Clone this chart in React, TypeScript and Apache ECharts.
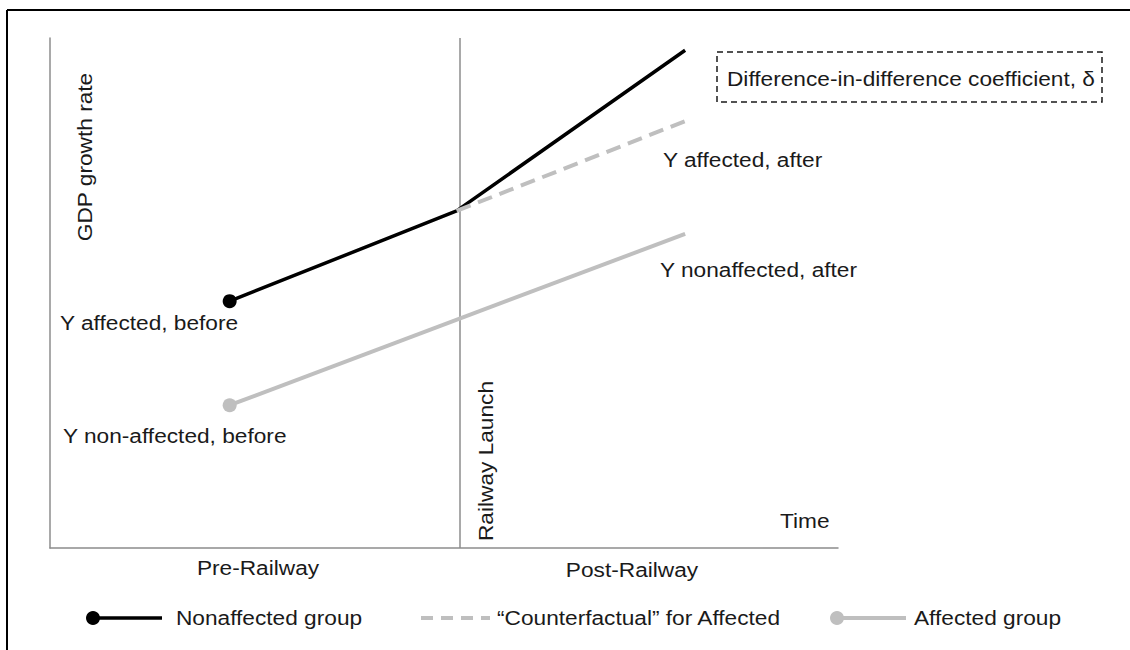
import React, { useEffect, useRef } from "react";
import * as echarts from "echarts";

// Values (x: time 0-100, y: GDP growth 0-100)
const nonaffectedX = [22.8, 51.6, 80.6];
const nonaffectedY = [48.4, 66.1, 97.6];
const counterX = [51.6, 80.6];
const counterY = [66.1, 83.7];
const affectedX = [22.8, 80.6];
const affectedY = [28.0, 61.6];
const railwayLaunchX = 52.0;
const legendNames = ["Nonaffected group", "\u201cCounterfactual\u201d for Affected", "Affected group"];

const FONT = "'Liberation Sans', Arial, sans-serif";
const TXT = "#1a1a1a";
const GREY = "#bfbfbf";
const AXIS = "#8c8c8c";
const STRETCH = 1.08;

function pts(xs: number[], ys: number[], firstSymbol: boolean) {
  return xs.map((x, i) =>
    i === 0 && firstSymbol
      ? { value: [x, ys[i]], symbol: "circle", symbolSize: 14 }
      : { value: [x, ys[i]], symbol: "none" }
  );
}

function txt(text: string, x: number, y: number, align = "left", rotation = 0) {
  return {
    type: "text",
    x,
    y,
    rotation,
    scaleX: STRETCH,
    style: { text, font: `21px ${FONT}`, fill: TXT, align, verticalAlign: "middle" },
  };
}

export default function App() {
  const ref = useRef<HTMLDivElement>(null);
  useEffect(() => {
    if (!ref.current) return;
    const chart = echarts.init(ref.current, undefined, { renderer: "svg" });
    chart.setOption({
      animation: false,
      backgroundColor: "#fff",
      grid: { left: 50, top: 38, right: 292, bottom: 102 },
      xAxis: {
        type: "value",
        min: 0,
        max: 100,
        axisLine: { show: true, lineStyle: { color: AXIS, width: 1.5 } },
        axisTick: { show: false },
        axisLabel: { show: false },
        splitLine: { show: false },
      },
      yAxis: {
        type: "value",
        min: 0,
        max: 100,
        axisLine: { show: true, lineStyle: { color: AXIS, width: 1.5 } },
        axisTick: { show: false },
        axisLabel: { show: false },
        splitLine: { show: false },
      },
      series: [
        {
          name: legendNames[2],
          type: "line",
          data: pts(affectedX, affectedY, true),
          itemStyle: { color: GREY },
          lineStyle: { color: GREY, width: 4 },
          z: 2,
        },
        {
          name: legendNames[0],
          type: "line",
          data: pts(nonaffectedX, nonaffectedY, true),
          itemStyle: { color: "#000" },
          lineStyle: { color: "#000", width: 3.5 },
          z: 3,
          markLine: {
            silent: true,
            symbol: "none",
            label: { show: false },
            lineStyle: { color: AXIS, width: 1.5, type: "solid" },
            data: [{ xAxis: railwayLaunchX }],
            z: 1,
          },
        },
        {
          name: legendNames[1],
          type: "line",
          data: pts(counterX, counterY, false),
          lineStyle: { color: GREY, width: 4, type: [15, 8] },
          z: 4,
        },
      ],
      graphic: [
        // figure frame
        { type: "line", shape: { x1: 7, y1: 10, x2: 1130, y2: 10 }, style: { stroke: "#000", lineWidth: 2 } },
        { type: "line", shape: { x1: 7, y1: 10, x2: 7, y2: 650 }, style: { stroke: "#000", lineWidth: 2 } },
        txt("GDP growth rate", 85, 157, "center", Math.PI / 2),
        txt("Y affected, before", 60, 323),
        txt("Y non-affected, before", 63, 436),
        txt("Y affected, after", 663, 160),
        txt("Y nonaffected, after", 660, 270),
        txt("Railway Launch", 486, 461, "center", Math.PI / 2),
        txt("Time", 780, 521),
        txt("Pre-Railway", 258, 568, "center"),
        txt("Post-Railway", 632, 570, "center"),
        {
          type: "rect",
          shape: { x: 717, y: 52, width: 385, height: 50 },
          style: { fill: "none", stroke: "#1a1a1a", lineWidth: 1.5, lineDash: [6, 4] },
        },
        txt("Difference-in-difference coefficient, \u03b4", 727, 79),
        // legend
        { type: "line", shape: { x1: 93, y1: 618, x2: 162, y2: 618 }, style: { stroke: "#000", lineWidth: 3.5 } },
        { type: "circle", shape: { cx: 93, cy: 618, r: 7 }, style: { fill: "#000" } },
        txt(legendNames[0], 176, 618),
        { type: "line", shape: { x1: 421, y1: 618, x2: 490, y2: 618 }, style: { stroke: GREY, lineWidth: 4, lineDash: [12, 8] } },
        txt(legendNames[1], 497, 618),
        { type: "line", shape: { x1: 837, y1: 618, x2: 906, y2: 618 }, style: { stroke: GREY, lineWidth: 4 } },
        { type: "circle", shape: { cx: 837, cy: 618, r: 7 }, style: { fill: GREY } },
        txt(legendNames[2], 914, 618),
      ],
    });
    return () => chart.dispose();
  }, []);
  return (
    <div
      ref={ref}
      style={{ position: "absolute", left: 0, top: 0, width: 1130, height: 650 }}
    />
  );
}
